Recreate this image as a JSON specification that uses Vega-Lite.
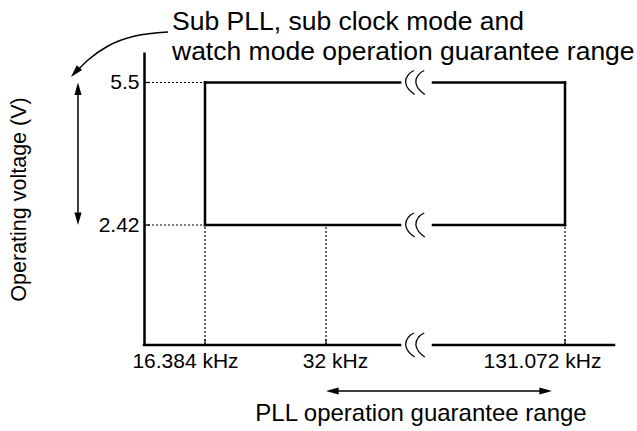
{
  "$schema": "https://vega.github.io/schema/vega-lite/v6.json",
  "width": 470,
  "height": 293,
  "autosize": {"type": "none"},
  "padding": {"left": 144, "top": 52, "right": 23, "bottom": 86},
  "background": "white",
  "config": {"view": {"stroke": null}, "font": "Liberation Sans"},
  "datasets": {
    "dotted": [
      {"x": 0, "x2": 16.384, "y": 5.5, "y2": 5.5},
      {"x": 0, "x2": 16.384, "y": 2.42, "y2": 2.42},
      {"x": 16.384, "x2": 16.384, "y": 0, "y2": 2.42},
      {"x": 32, "x2": 32, "y": 0, "y2": 2.42},
      {"x": 131.072, "x2": 131.072, "y": 0, "y2": 2.42}
    ],
    "ticks": [
      {"x": 0, "x2": 1.6, "y": 5.5, "y2": 5.5},
      {"x": 0, "x2": 1.6, "y": 2.42, "y2": 2.42},
      {"x": 16.384, "x2": 16.384, "y": 0, "y2": 0.12},
      {"x": 32, "x2": 32, "y": 0, "y2": 0.12},
      {"x": 131.072, "x2": 131.072, "y": 0, "y2": 0.12}
    ],
    "frame": [
      {"x": 16.384, "x2": 62.7, "y": 5.5, "y2": 5.5},
      {"x": 76.35, "x2": 131.072, "y": 5.5, "y2": 5.5},
      {"x": 16.384, "x2": 62.7, "y": 2.42, "y2": 2.42},
      {"x": 76.35, "x2": 131.072, "y": 2.42, "y2": 2.42},
      {"x": 16.384, "x2": 16.384, "y": 2.42, "y2": 5.5},
      {"x": 131.072, "x2": 131.072, "y": 2.42, "y2": 5.5},
      {"x": 0, "x2": 62.7, "y": 0, "y2": 0},
      {"x": 76.35, "x2": 140, "y": 0, "y2": 0}
    ],
    "shafts": [
      {"x": -17.73, "x2": -17.73, "y": 2.506, "y2": 5.41},
      {"x": 33.66, "x2": 124.02, "y": -0.928, "y2": -0.928}
    ],
    "curve": [
      {"x": 6.45, "y": 6.576},
      {"x": -2.42, "y": 6.491},
      {"x": -9.67, "y": 6.278},
      {"x": -15.04, "y": 5.98},
      {"x": -18.26, "y": 5.724}
    ],
    "heads": [
      {"x": -17.73, "y": 5.5, "dir": "up"},
      {"x": -17.73, "y": 2.42, "dir": "down"},
      {"x": 32, "y": -0.928, "dir": "left"},
      {"x": 125.68, "y": -0.928, "dir": "right"},
      {"x": -19.61, "y": 5.617, "dir": "downleft"}
    ],
    "breaks": [
      {"x": 69, "y": 5.5},
      {"x": 69, "y": 2.42},
      {"x": 69, "y": 0}
    ],
    "notes": [
      {"x": 7.52, "y": 6.619, "text": "Sub PLL, sub clock mode and", "note": "sub"},
      {"x": 7.52, "y": 5.98, "text": "watch mode operation guarantee range", "note": "sub"},
      {"x": 71.38, "y": -1.533, "text": "PLL operation guarantee range", "note": "pll"}
    ]
  },
  "encoding": {
    "x": {
      "field": "x",
      "type": "quantitative",
      "scale": {"domain": [0, 16.384, 32, 131.072, 140], "range": [0, 61, 182, 421, 470], "nice": false, "zero": false},
      "axis": {
        "title": null,
        "values": [16.384, 32, 131.072],
        "labelExpr": "datum.value + ' kHz'",
        "domain": false,
        "ticks": false,
        "tickSize": 0,
        "grid": false,
        "labelFont": "Liberation Sans",
        "labelFontSize": 21,
        "labelColor": "black",
        "labelPadding": 5,
        "labelFlush": false,
        "labelOverlap": false,
        "labelOffset": {"condition": [{"test": "datum.value < 20", "value": -20}, {"test": "datum.value < 40", "value": 9}], "value": -23}
      }
    },
    "y": {
      "field": "y",
      "type": "quantitative",
      "scale": {"domain": [0, 2.42, 5.5, 6.15], "range": [293, 173, 30.5, 0], "nice": false, "zero": false},
      "axis": {
        "title": "Operating voltage (V)",
        "values": [2.42, 5.5],
        "labelExpr": "datum.value + ''",
        "ticks": false,
        "tickSize": 0,
        "grid": false,
        "domainColor": "black",
        "domainWidth": 2.5,
        "labelFont": "Liberation Sans",
        "labelFontSize": 21,
        "labelColor": "black",
        "labelPadding": 5,
        "labelOverlap": false,
        "titleFont": "Liberation Sans",
        "titleFontSize": 21.5,
        "titleFontWeight": "normal",
        "titleColor": "black",
        "titleAngle": -90,
        "titleX": -125,
        "titleY": 147,
        "titleAlign": "center",
        "titleBaseline": "middle"
      }
    }
  },
  "layer": [
    {
      "data": {"name": "dotted"},
      "mark": {"type": "rule", "color": "black", "strokeWidth": 1.2, "strokeDash": [2, 2]},
      "encoding": {"x2": {"field": "x2"}, "y2": {"field": "y2"}}
    },
    {
      "data": {"name": "ticks"},
      "mark": {"type": "rule", "color": "black", "strokeWidth": 1.2},
      "encoding": {"x2": {"field": "x2"}, "y2": {"field": "y2"}}
    },
    {
      "data": {"name": "frame"},
      "mark": {"type": "rule", "color": "black", "strokeWidth": 2.5, "strokeCap": "square"},
      "encoding": {"x2": {"field": "x2"}, "y2": {"field": "y2"}}
    },
    {
      "data": {"name": "shafts"},
      "mark": {"type": "rule", "color": "black", "strokeWidth": 1.5},
      "encoding": {"x2": {"field": "x2"}, "y2": {"field": "y2"}}
    },
    {
      "data": {"name": "curve"},
      "mark": {"type": "line", "color": "black", "strokeWidth": 1.5, "interpolate": "monotone"},
      "encoding": {}
    },
    {
      "data": {"name": "heads"},
      "transform": [{"filter": "datum.dir === 'up'"}],
      "mark": {"type": "point", "shape": "M0,0L0.6,2.1L-0.6,2.1Z", "filled": true, "color": "black", "opacity": 1, "size": 144, "angle": 0}
    },
    {
      "data": {"name": "heads"},
      "transform": [{"filter": "datum.dir === 'down'"}],
      "mark": {"type": "point", "shape": "M0,0L0.6,2.1L-0.6,2.1Z", "filled": true, "color": "black", "opacity": 1, "size": 144, "angle": 180}
    },
    {
      "data": {"name": "heads"},
      "transform": [{"filter": "datum.dir === 'left'"}],
      "mark": {"type": "point", "shape": "M0,0L0.6,2.1L-0.6,2.1Z", "filled": true, "color": "black", "opacity": 1, "size": 144, "angle": 270}
    },
    {
      "data": {"name": "heads"},
      "transform": [{"filter": "datum.dir === 'right'"}],
      "mark": {"type": "point", "shape": "M0,0L0.6,2.1L-0.6,2.1Z", "filled": true, "color": "black", "opacity": 1, "size": 144, "angle": 90}
    },
    {
      "data": {"name": "heads"},
      "transform": [{"filter": "datum.dir === 'downleft'"}],
      "mark": {"type": "point", "shape": "M0,0L0.6,2.1L-0.6,2.1Z", "filled": true, "color": "black", "opacity": 1, "size": 144, "angle": 222}
    },
    {
      "data": {"name": "breaks"},
      "mark": {"type": "point", "shape": "M-0.1,-1C-0.45,-0.85,-0.85,-0.45,-0.8,0C-0.75,0.45,-0.35,0.8,-0.05,1M0.75,-1C0.4,-0.85,0,-0.45,0.05,0C0.1,0.45,0.5,0.8,0.8,1", "filled": false, "color": "black", "opacity": 1, "strokeWidth": 1.3, "size": 576}
    },
    {
      "data": {"name": "notes"},
      "transform": [{"filter": "datum.note === 'sub'"}],
      "mark": {"type": "text", "align": "left", "baseline": "alphabetic", "font": "Liberation Sans", "fontSize": 26.5, "color": "black"},
      "encoding": {"text": {"field": "text"}}
    },
    {
      "data": {"name": "notes"},
      "transform": [{"filter": "datum.note === 'pll'"}],
      "mark": {"type": "text", "align": "center", "baseline": "alphabetic", "font": "Liberation Sans", "fontSize": 24, "color": "black"},
      "encoding": {"text": {"field": "text"}}
    }
  ]
}
